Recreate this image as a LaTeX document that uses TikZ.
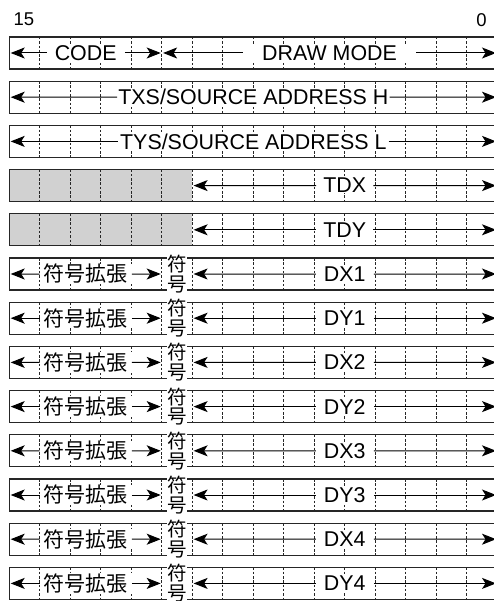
\documentclass[tikz,border=0pt]{standalone}
\usepackage{fontspec}
\setmainfont{Liberation Sans}
\newfontfamily\jpfont{Noto Sans CJK JP}
\usepackage{tikz}
\usetikzlibrary{arrows.meta,positioning,calc}

\begin{document}
\begin{tikzpicture}[x=1pt, y=-1pt,
  every node/.style={font=\fontsize{21.4}{21.4}\selectfont},
  frame/.style={draw=black!85, line width=1.2pt},
  sep/.style={draw=black!85, line width=1pt, dash pattern=on 2.5pt off 1.8pt},
  grey/.style={fill=black!18},
  field/.style={fill=white, inner xsep=6pt, inner ysep=0.5pt},
  jp/.style={font=\jpfont\fontsize{21}{21}\selectfont},
  sgn/.style={fill=white, inner sep=0pt, align=center, font=\jpfont\fontsize{19.5}{19.8}\selectfont},
  arr/.style={-{Stealth[length=14pt, width=11pt, inset=3.5pt]}, line width=1pt, shorten >=1.2pt},
  bitno/.style={font=\fontsize{18.5}{18.5}\selectfont, inner sep=0pt}
]
\useasboundingbox (0,0) rectangle (493,601);

% unused bits of TDX / TDY
\fill[grey] (9.5,169.6) rectangle (192.4,201.6);
\fill[grey] (9.5,213.8) rectangle (192.4,245.8);

% one frame per word, 16 bits each
\foreach \r in {0,...,12} {
  \pgfmathsetmacro\ytop{37+44.2*\r}
  \coordinate (L\r) at (9.5,\ytop+16);
  \coordinate (A\r) at (161.9,\ytop+16);
  \coordinate (B\r) at (192.4,\ytop+16);
  \coordinate (R\r) at (497.2,\ytop+16);
  \draw[frame] (9.5,\ytop) rectangle (497.2,\ytop+32);
  \foreach \i in {1,...,15}
    \draw[sep] (9.5+\i*30.48,\ytop) -- ++(0,32);
}

% bit numbers
\node[bitno] (b15) at (24,19.7) {15};
\node[bitno] (b0) at (481.5,19.7) {0};

% CMD word
\node[field, inner xsep=8pt] (code) at ($(L0)!0.5!(A0)$) {CODE};
\node[field, inner xsep=19pt] (mode) at ($(A0)!0.5!(R0)$) {DRAW MODE};
\draw[arr] (code.west) -- (L0);
\draw[arr] (code.east) -- (A0);
\draw[arr] (mode.west) -- (A0);
\draw[arr] (mode.east) -- (R0);

% source address
\node[field, inner xsep=1pt] (txs) at ($(L1)!0.5!(R1)$) {TXS/SOURCE ADDRESS H};
\node[field, inner xsep=2pt] (tys) at ($(L2)!0.5!(R2)$) {TYS/SOURCE ADDRESS L};
\draw[arr] (txs.west) -- (L1);
\draw[arr] (txs.east) -- (R1);
\draw[arr] (tys.west) -- (L2);
\draw[arr] (tys.east) -- (R2);

% TDX, TDY
\node[field, inner xsep=7pt] (tdx) at ($(B3)!0.5!(R3)$) {TDX};
\node[field, inner xsep=7pt] (tdy) at ($(B4)!0.5!(R4)$) {TDY};
\draw[arr] (tdx.west) -- (B3);
\draw[arr] (tdx.east) -- (R3);
\draw[arr] (tdy.west) -- (B4);
\draw[arr] (tdy.east) -- (R4);

% DX/DY words
\foreach \r/\t in {5/DX1,6/DY1,7/DX2,8/DY2,9/DX3,10/DY3,11/DX4,12/DY4} {
  \node[field, jp, inner xsep=4pt] (ext\r) at ($(L\r)!0.5!(A\r)$) {符号拡張};
  \node[sgn] (sgn\r) at ($(A\r)!0.5!(B\r)$) {符\\号};
  \node[field, inner xsep=8pt] (val\r) at ($(B\r)!0.5!(R\r)$) {\t};
  \draw[arr] (ext\r.west) -- (L\r);
  \draw[arr] (ext\r.east) -- (A\r);
  \draw[arr] (val\r.west) -- (B\r);
  \draw[arr] (val\r.east) -- (R\r);
}
\end{tikzpicture}
\end{document}
